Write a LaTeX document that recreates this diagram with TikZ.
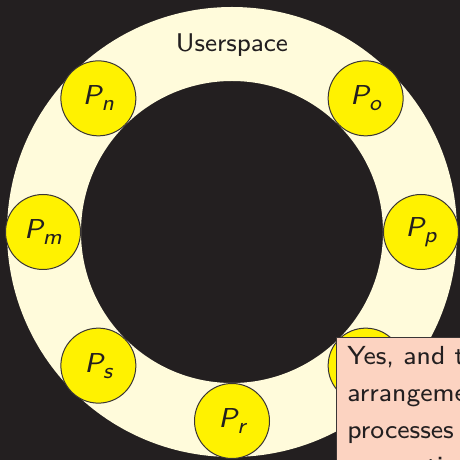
\documentclass[tikz,border=0pt]{standalone}
\usepackage{graphicx}

\definecolor{bgdark}{HTML}{231F20}
\definecolor{ringcream}{HTML}{FFFBDB}
\definecolor{procyellow}{HTML}{FFF200}
\definecolor{notepink}{HTML}{FCD3C1}
\definecolor{inkgray}{HTML}{3A3535}

% process label: slanted sans P with a lowered index
\newcommand{\proclabel}[1]{\scalebox{1.71}{\fontsize{8}{10}\selectfont\sffamily\itshape P\raisebox{-1.75pt}{\fontsize{6.5}{8}\selectfont #1}}}

\begin{document}
\begin{tikzpicture}[x=0.5pt,y=0.5pt,
  proc/.style={circle, draw=inkgray, line width=0.5pt, fill=procyellow,
               minimum size=37.5pt, inner sep=0pt, text=bgdark},
  notebox/.style={fill=notepink, draw=inkgray, line width=0.5pt}]
\useasboundingbox (0,0) rectangle (460,460);
\clip (0,0) rectangle (460,460);
\fill[bgdark] (0,0) rectangle (460,460);

% the userspace ring
\coordinate (c) at (232,228);
\fill[ringcream, even odd rule] (c) circle[radius=225] (c) circle[radius=151];

\node[anchor=base, inner sep=0pt, text=bgdark] (us) at (232,408)
  {\scalebox{1.6}{\fontsize{8}{10}\selectfont\sffamily Userspace}};

% processes placed around the ring
\foreach \n/\a in {m/180, n/135, o/45, p/0, q/-45, r/-90, s/-135}
  \node[proc] (p\n) at ([shift={(\a:189)}]c) {\proclabel{\n}};

% note box
\draw[notebox] (336,122) rectangle (480,-20);
\node[anchor=base west, inner sep=0pt, text=bgdark] (note) at (347,95)
  {\scalebox{1.63}{\parbox[t]{120pt}{\raggedright\fontsize{8}{11.2}\selectfont\sffamily
   Yes, and the\\ arrangement of\\ processes varies\\ across time.}}};
\end{tikzpicture}
\end{document}
